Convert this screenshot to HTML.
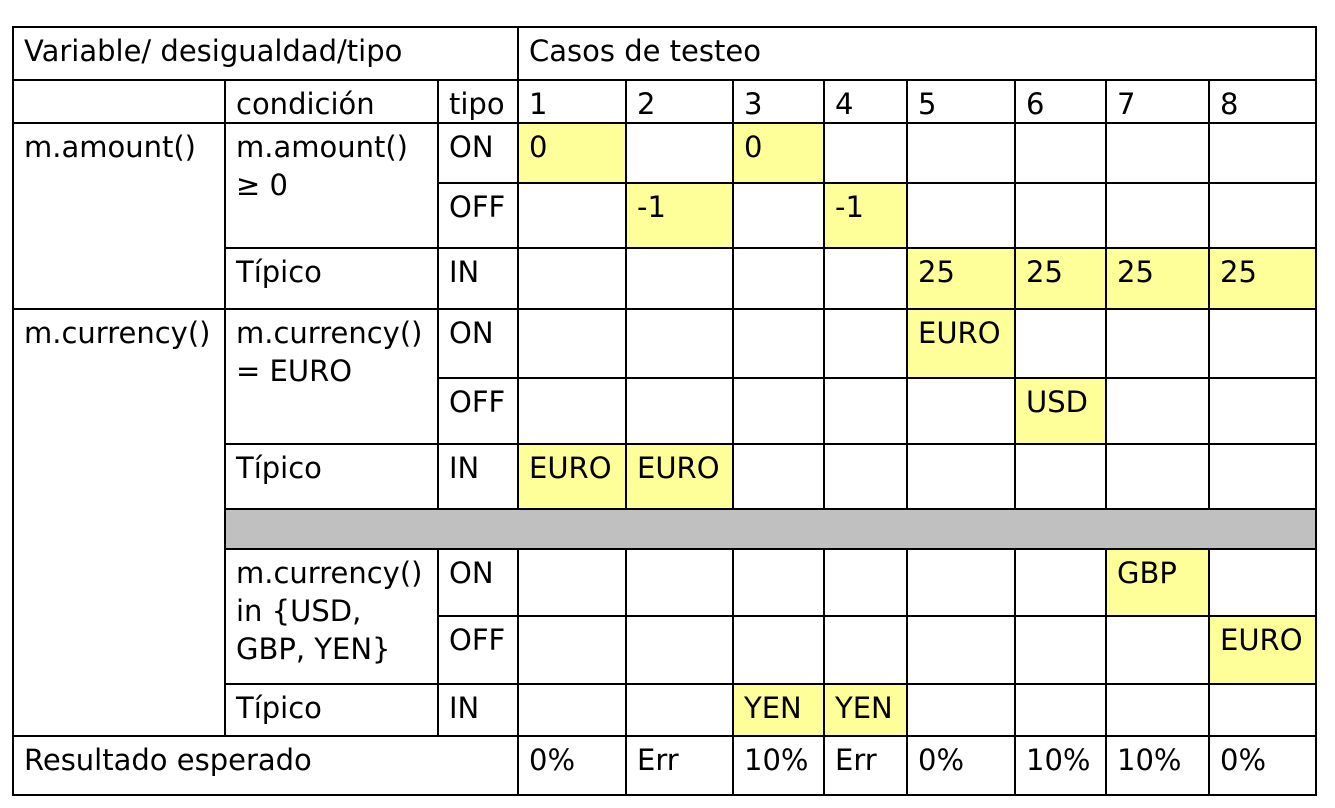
<!DOCTYPE html>
<html><head><meta charset="utf-8"><style>
html,body{margin:0;padding:0;background:#fff;}
#t{position:relative;width:1335px;height:808px;font-family:"DejaVu Sans","Liberation Sans",sans-serif;font-size:29px;color:#000;}
.c{position:absolute;box-sizing:border-box;border:2px solid #000;padding:4px 0 0 10px;line-height:38px;white-space:pre;overflow:hidden;}
.y{background:#ffff99;}
.g{background:#c0c0c0;}
</style></head><body>
<div id="t"></div>
<script>
const xs=[13,225,438,518,626,733,824,907,1015,1106,1209,1316];
const ys=[27,80,123,183,248,309,378,444,509,549,616,684,736,795];
const caseNums=["1","2","3","4","5","6","7","8"];
const results=["0%","Err","10%","Err","0%","10%","10%","0%"];
const rowY=[2,3,4,5,6,7,9,10,11];
const tipos=["ON","OFF","IN","ON","OFF","IN","ON","OFF","IN"];
const values=[
["0","","0","","","","",""],
["","-1","","-1","","","",""],
["","","","","25","25","25","25"],
["","","","","EURO","","",""],
["","","","","","USD","",""],
["EURO","EURO","","","","","",""],
["","","","","","","GBP",""],
["","","","","","","","EURO"],
["","","YEN","YEN","","","",""]];
const host=document.getElementById('t');
function cell(x0,x1,y0,y1,txt,cls,name){
  const el=document.createElement('div');
  el.className='c'+(cls?' '+cls:'');
  el.style.left=(xs[x0]-1)+'px';el.style.top=(ys[y0]-1)+'px';
  el.style.width=(xs[x1]-xs[x0]+2)+'px';el.style.height=(ys[y1]-ys[y0]+2)+'px';
  el.textContent=txt;
  
  
  host.appendChild(el);
}
cell(0,3,0,1,"Variable/ desigualdad/tipo","","header-variable");
cell(3,11,0,1,"Casos de testeo","","header-test-cases");
cell(0,1,1,2,"","","header-blank");
cell(1,2,1,2,"condición","","header-condition");
cell(2,3,1,2,"tipo","","header-type");
for(let i=0;i<8;i++){cell(3+i,4+i,1,2,caseNums[i],"","case-number");}
cell(0,1,2,5,"m.amount()","","variable-amount");
cell(0,1,5,12,"m.currency()","","variable-currency");
cell(1,2,2,4,"m.amount()\n≥ 0","","condition-amount");
cell(1,2,4,5,"Típico","","typical-amount");
cell(1,2,5,7,"m.currency()\n= EURO","","condition-euro");
cell(1,2,7,8,"Típico","","typical-euro");
cell(1,11,8,9,"","g","separator-row");
cell(1,2,9,11,"m.currency()\nin {USD,\nGBP, YEN}","","condition-currency-set");
cell(1,2,11,12,"Típico","","typical-currency-set");
for(let r=0;r<rowY.length;r++){
  const y=rowY[r];
  cell(2,3,y,y+1,tipos[r],"","type-cell");
  for(let i=0;i<8;i++){
    const v=values[r][i];
    cell(3+i,4+i,y,y+1,v,v?"y":"","value-cell");
  }
}
cell(0,3,12,13,"Resultado esperado","","expected-result-label");
for(let i=0;i<8;i++){cell(3+i,4+i,12,13,results[i],"","expected-result");}
</script>
</body></html>
